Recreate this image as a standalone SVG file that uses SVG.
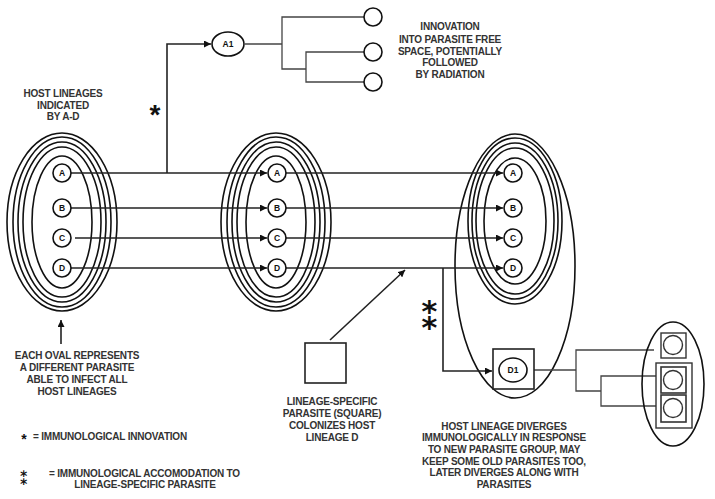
<svg xmlns="http://www.w3.org/2000/svg" width="715" height="499" viewBox="0 0 715 499">
<defs>
<marker id="ah" viewBox="0 0 10 10" refX="10" refY="5" markerWidth="7" markerHeight="7" markerUnits="userSpaceOnUse" orient="auto"><path d="M0,0 L10,5 L0,10 z" fill="#111"/></marker>
<style>
.ov{fill:none;stroke:#111;stroke-width:1.6}
.ln{fill:none;stroke:#222;stroke-width:1.6}
.tl{fill:none;stroke:#444;stroke-width:1.3}
.nd{fill:#fff;stroke:#111;stroke-width:1.6}
.lb{font-family:"Liberation Sans",Arial,sans-serif;font-size:8.5px;font-weight:bold;fill:#111;text-anchor:middle}
.t{font-family:"Liberation Sans",Arial,sans-serif;font-size:10px;font-weight:bold;fill:#333;text-anchor:middle;letter-spacing:-0.2px}
.ast{font-family:"Liberation Sans",Arial,sans-serif;font-weight:bold;fill:#111;text-anchor:middle}
.ast2{font-family:"DejaVu Sans",sans-serif;font-weight:bold;fill:#111;text-anchor:middle}
</style>
</defs>
<rect width="715" height="499" fill="#fff"/>

<g id="group-left">
<ellipse class="ov" cx="62" cy="222" rx="55" ry="89"/>
<ellipse class="ov" cx="62" cy="222" rx="49" ry="85"/>
<ellipse class="ov" cx="62" cy="222" rx="44" ry="80"/>
<ellipse class="ov" cx="62" cy="222" rx="39" ry="75"/>
<ellipse class="ov" cx="62" cy="222" rx="30" ry="66"/>
</g>
<g id="group-middle">
<ellipse class="ov" cx="276" cy="222" rx="55" ry="89"/>
<ellipse class="ov" cx="276" cy="222" rx="49" ry="85"/>
<ellipse class="ov" cx="276" cy="222" rx="44" ry="80"/>
<ellipse class="ov" cx="276" cy="222" rx="39" ry="75"/>
<ellipse class="ov" cx="276" cy="222" rx="30" ry="66"/>
</g>
<g id="group-right">
<ellipse class="ov" cx="515" cy="266" rx="60" ry="132"/>
<ellipse class="ov" cx="515" cy="221" rx="47" ry="83"/>
<ellipse class="ov" cx="515" cy="221" rx="43" ry="78"/>
<ellipse class="ov" cx="515" cy="221" rx="39" ry="73"/>
<ellipse class="ov" cx="515" cy="221" rx="31" ry="63"/>
</g>

<g id="connectors">
<line class="ln" x1="71" y1="173" x2="267" y2="173" marker-end="url(#ah)"/>
<line class="ln" x1="71" y1="208" x2="267" y2="208" marker-end="url(#ah)"/>
<line class="ln" x1="75" y1="238" x2="267" y2="238" marker-end="url(#ah)"/>
<line class="ln" x1="71" y1="268" x2="267" y2="268" marker-end="url(#ah)"/>
<line class="ln" x1="286" y1="173" x2="503" y2="173" marker-end="url(#ah)"/>
<line class="ln" x1="286" y1="208" x2="503" y2="208" marker-end="url(#ah)"/>
<line class="ln" x1="286" y1="238" x2="503" y2="238" marker-end="url(#ah)"/>
<line class="ln" x1="286" y1="268" x2="503" y2="268" marker-end="url(#ah)"/>
<polyline class="ln" points="167,173 167,44 211,44" marker-end="url(#ah)"/>
<polyline class="ln" points="443,268 443,371 492,371" marker-end="url(#ah)"/>
<line class="ln" x1="330" y1="340" x2="405" y2="270" marker-end="url(#ah)"/>
<line class="ln" x1="61" y1="344" x2="61" y2="320" marker-end="url(#ah)"/>
<polyline class="tl" points="245,44 282,44"/>
<polyline class="tl" points="364,17 282,17 282,69 306,69"/>
<polyline class="tl" points="364,52 306,52 306,82 364,82"/>
<polyline class="tl" points="534,370 576,370"/>
<polyline class="tl" points="654,350 576,350 576,391 601,391"/>
<polyline class="tl" points="656,376 601,376 601,406 656,406"/>
</g>

<g id="nodes-left">
<circle class="nd" cx="62" cy="173" r="9"/><text class="lb" x="62" y="176">A</text>
<circle class="nd" cx="62" cy="208" r="9"/><text class="lb" x="62" y="211">B</text>
<circle class="nd" cx="62" cy="238" r="9"/><text class="lb" x="62" y="241">C</text>
<circle class="nd" cx="62" cy="268" r="9"/><text class="lb" x="62" y="271">D</text>
</g>
<g id="nodes-middle">
<circle class="nd" cx="277" cy="173" r="9"/><text class="lb" x="277" y="176">A</text>
<circle class="nd" cx="277" cy="208" r="9"/><text class="lb" x="277" y="211">B</text>
<circle class="nd" cx="277" cy="238" r="9"/><text class="lb" x="277" y="241">C</text>
<circle class="nd" cx="277" cy="268" r="9"/><text class="lb" x="277" y="271">D</text>
</g>
<g id="nodes-right">
<circle class="nd" cx="513" cy="173" r="9"/><text class="lb" x="513" y="176">A</text>
<circle class="nd" cx="513" cy="208" r="9"/><text class="lb" x="513" y="211">B</text>
<circle class="nd" cx="513" cy="238" r="9"/><text class="lb" x="513" y="241">C</text>
<circle class="nd" cx="513" cy="268" r="9"/><text class="lb" x="513" y="271">D</text>
</g>

<g id="node-A1">
<ellipse class="nd" cx="228" cy="44" rx="16" ry="12"/><text class="lb" x="228" y="47">A1</text>
</g>
<g id="A1-descendants">
<circle class="nd" cx="373" cy="17" r="9" stroke="#555" stroke-width="1.3"/>
<circle class="nd" cx="373" cy="52" r="9" stroke="#555" stroke-width="1.3"/>
<circle class="nd" cx="373" cy="82" r="9" stroke="#555" stroke-width="1.3"/>
</g>
<g id="node-square">
<rect x="305" y="343" width="41" height="40" fill="#fff" stroke="#222" stroke-width="1.6"/>
</g>
<g id="node-D1">
<rect x="493" y="349" width="41" height="40" fill="#fff" stroke="#222" stroke-width="1.6"/>
<ellipse class="nd" cx="513" cy="370" rx="14" ry="12"/><text class="lb" x="513" y="373">D1</text>
</g>
<g id="node-D1-descendants">
<ellipse class="ov" cx="673" cy="384" rx="31" ry="62"/>
<rect x="661" y="333" width="25" height="25" fill="#fff" stroke="#333" stroke-width="1.4"/>
<circle cx="673" cy="345" r="9.5" fill="#fff" stroke="#333" stroke-width="1.4"/>
<rect x="656" y="363" width="36" height="65" fill="#fff" stroke="#333" stroke-width="1.4"/>
<rect x="661" y="367" width="25" height="26" fill="#fff" stroke="#333" stroke-width="1.6"/>
<circle cx="673" cy="380" r="9.5" fill="#fff" stroke="#333" stroke-width="1.4"/>
<rect x="661" y="395" width="25" height="27" fill="#fff" stroke="#333" stroke-width="1.6"/>
<circle cx="673" cy="408" r="9.5" fill="#fff" stroke="#333" stroke-width="1.4"/>
</g>

<g id="asterisks">
<text class="ast" x="155" y="124" font-size="28">*</text>
<text class="ast2" x="430" y="329" font-size="38">⁑</text>
</g>

<g id="labels">
<text class="t" x="63" y="97">HOST LINEAGES</text>
<text class="t" x="63" y="109">INDICATED</text>
<text class="t" x="63" y="120">BY A-D</text>
<text class="t" x="450" y="30">INNOVATION</text>
<text class="t" x="450" y="43">INTO PARASITE FREE</text>
<text class="t" x="450" y="55">SPACE, POTENTIALLY</text>
<text class="t" x="450" y="66">FOLLOWED</text>
<text class="t" x="450" y="78">BY RADIATION</text>
<text class="t" x="77" y="359">EACH OVAL REPRESENTS</text>
<text class="t" x="77" y="371">A DIFFERENT PARASITE</text>
<text class="t" x="77" y="383">ABLE TO INFECT ALL</text>
<text class="t" x="77" y="395">HOST LINEAGES</text>
<text class="t" x="332" y="405">LINEAGE-SPECIFIC</text>
<text class="t" x="332" y="417">PARASITE (SQUARE)</text>
<text class="t" x="332" y="429">COLONIZES HOST</text>
<text class="t" x="332" y="441">LINEAGE D</text>
<text class="t" x="504" y="430">HOST LINEAGE DIVERGES</text>
<text class="t" x="504" y="441">IMMUNOLOGICALLY IN RESPONSE</text>
<text class="t" x="504" y="453">TO NEW PARASITE GROUP, MAY</text>
<text class="t" x="504" y="465">KEEP SOME OLD PARASITES TOO,</text>
<text class="t" x="504" y="476">LATER DIVERGES ALONG WITH</text>
<text class="t" x="504" y="488">PARASITES</text>
</g>

<g id="legend">
<text class="ast" x="24" y="444" font-size="14">*</text>
<text class="t" x="33" y="440" style="text-anchor:start">= IMMUNOLOGICAL INNOVATION</text>
<text class="ast2" x="24" y="485" font-size="17">⁑</text>
<text class="t" x="49" y="477" style="text-anchor:start">= IMMUNOLOGICAL ACCOMODATION TO</text>
<text class="t" x="145" y="488">LINEAGE-SPECIFIC PARASITE</text>
</g>
</svg>
